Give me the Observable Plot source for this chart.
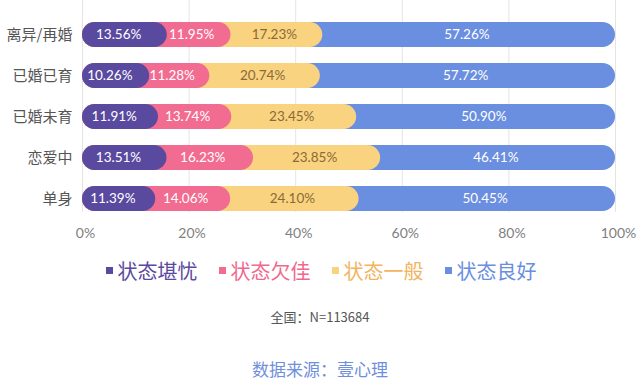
<!DOCTYPE html>
<html>
<head>
<meta charset="utf-8">
<script src="https://cdn.jsdelivr.net/npm/d3@7"></script>
<script src="https://cdn.jsdelivr.net/npm/@observablehq/plot@0.6"></script>
<style>
  body { margin: 0; background: #fff; width: 640px; font-family: "Noto Sans CJK SC", "Noto Sans", sans-serif; }
  #chart svg { display: block; }
  .legend { height: 50px; display: flex; justify-content: center; align-items: center; font-size: 20px; gap: 21px; padding-left: 2px; }
  .legend .item { display: flex; align-items: center; }
  .legend .sw { width: 7px; height: 7px; margin-right: 5px; }
  .caption { height: 44px; line-height: 44px; text-align: center; font-size: 13px; color: #555; }
  .source { height: 40px; line-height: 40px; margin-top: 10px; text-align: center; font-size: 17px; color: #6f8fdc; }
</style>
</head>
<body>
<div id="chart"></div>
<div class="legend" id="legend"></div>
<div class="caption">全国：N=113684</div>
<div class="source">数据来源：壹心理</div>
<script>
const categories = ["离异/再婚", "已婚已育", "已婚未育", "恋爱中", "单身"];
const seriesNames = ["状态堪忧", "状态欠佳", "状态一般", "状态良好"];
const severe = [13.56, 10.26, 11.91, 13.51, 11.39];
const poor   = [11.95, 11.28, 13.74, 16.23, 14.06];
const normal = [17.23, 20.74, 23.45, 23.85, 24.10];
const good   = [57.26, 57.72, 50.90, 46.41, 50.45];
const xTicks = [0, 20, 40, 60, 80, 100];

const colors = ["#5a4a9f", "#f26b90", "#f9d37f", "#6a8ee0"];
const legendText = ["#5a4a9f", "#f0688d", "#f2b461", "#6a8ee0"];
const labelFill = ["#ffffff", "#ffffff", "#8a6a3a", "#ffffff"];
const labelDx = [0, 5, 10, 4];
const seriesValues = [severe, poor, normal, good];

const rows = [];
categories.forEach((c, i) => {
  let cum = 0;
  seriesValues.forEach((vals, s) => {
    const start = cum;
    cum += vals[i];
    rows.push({cat: c, s, name: seriesNames[s], value: vals[i], start, end: cum});
  });
});

const numFont = "Lato, 'Noto Sans', sans-serif";
const marks = [];
// draw from last series to first, each pill from 0 to its cumulative end
for (let s = 3; s >= 0; s--) {
  const d = rows.filter(r => r.s === s);
  marks.push(Plot.barX(d, {
    y: "cat", x1: () => 0, x2: "end",
    fill: colors[s], rx: 12.5,
    insetRight: s === 3 ? 0 : -12.5
  }));
}
for (let s = 0; s < 4; s++) {
  const d = rows.filter(r => r.s === s);
  marks.push(Plot.text(d, {
    y: "cat", x: r => (r.start + r.end) / 2,
    text: r => r.value.toFixed(2) + "%",
    fill: labelFill[s], dx: labelDx[s],
    fontSize: 13.5, fontFamily: numFont
  }));
}

const chart = Plot.plot({
  width: 640,
  height: 245,
  marginLeft: 82,
  marginRight: 25,
  marginTop: 0,
  marginBottom: 33,
  style: {background: "#fff", color: "#555"},
  x: {domain: [0, 100]},
  y: {domain: categories, paddingInner: 0.384, paddingOuter: 0.252, align: 0.95},
  marks: [
    Plot.gridX(xTicks, {stroke: "#e4e4e4", strokeOpacity: 1}),
    ...marks,
    Plot.axisX({ticks: xTicks, tickSize: 0, tickPadding: 16, tickFormat: d => d + "%", fontSize: 14, fontFamily: numFont, fill: "#808080", dx: 3, label: null}),
    Plot.axisY({tickSize: 0, tickPadding: 10, fontSize: 15, fontFamily: "'Noto Sans CJK SC', sans-serif", fill: "#555", label: null})
  ]
});
document.getElementById("chart").appendChild(chart);

const legend = document.getElementById("legend");
seriesNames.forEach((n, i) => {
  const item = document.createElement("div");
  item.className = "item";
  item.innerHTML = `<span class="sw" style="background:${colors[i]}"></span><span style="color:${legendText[i]}">${n}</span>`;
  legend.appendChild(item);
});
</script>
</body>
</html>
